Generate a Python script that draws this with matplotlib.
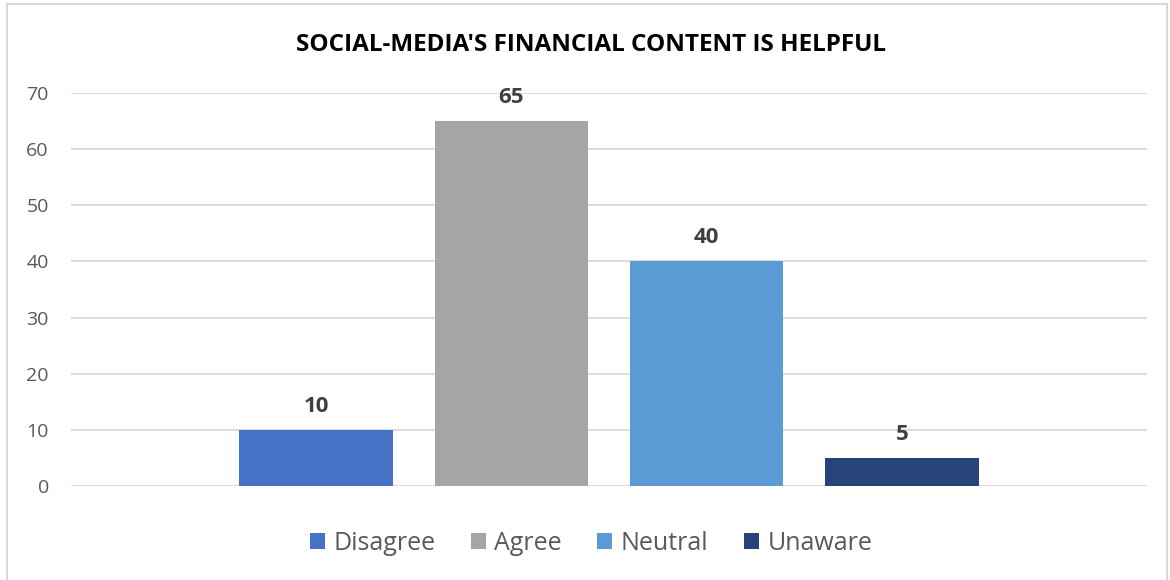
import matplotlib.pyplot as plt
from matplotlib.patches import Rectangle

plt.rcParams['font.family'] = ['Open Sans', 'DejaVu Sans']

title = "SOCIAL-MEDIA'S FINANCIAL CONTENT IS HELPFUL"
labels = ['Disagree', 'Agree', 'Neutral', 'Unaware']
values = [10, 65, 40, 5]
colors = ['#4472C4', '#A5A5A5', '#5B9BD5', '#264478']
yticks = [0, 10, 20, 30, 40, 50, 60, 70]

fig = plt.figure(figsize=(11.7, 5.8), dpi=100)
ax = fig.add_axes([71 / 1170, 1 - 486 / 580, 1076 / 1170, (486 - 93) / 580])

# one category, four series side by side
step = 1.0
width = 0.786
center = 5.51 / 2
for i, (lab, v, c) in enumerate(zip(labels, values, colors)):
    x = center + (i - 1.5) * step
    ax.bar(x, v, width=width, color=c, label=lab, zorder=3)
    ax.annotate(str(v), (x, v), xytext=(0, 9.5), textcoords='offset points',
                ha='center', va='bottom', fontsize=16, fontweight='bold',
                color='#404040')

ax.set_xlim(0, 5.51)
ax.set_ylim(0, 70)
ax.set_yticks(yticks)
ax.set_xticks([])
ax.grid(axis='y', color='#d9d9d9', linewidth=1.3, zorder=0)
for s in ax.spines.values():
    s.set_visible(False)
ax.tick_params(axis='y', length=0, pad=16, labelsize=14, labelcolor='#595959')

fig.text(591 / 1170, 1 - 45 / 580, title, ha='center', va='center',
         fontsize=17.5, fontweight='bold', color='#000000')

fig.legend(loc='center', bbox_to_anchor=(591 / 1170, 1 - 543 / 580), ncol=4,
           frameon=False, fontsize=18, handlelength=0.6, handleheight=0.6,
           handletextpad=0.35, columnspacing=1.4, labelcolor='#595959')

fig.patches.append(Rectangle((7 / 1170, -0.01), 1160 / 1170, 1.01 - 4 / 580,
                             transform=fig.transFigure, fill=False,
                             edgecolor='#d9d9d9', linewidth=1.5))

fig.savefig('out.png', dpi=100, facecolor='white')
